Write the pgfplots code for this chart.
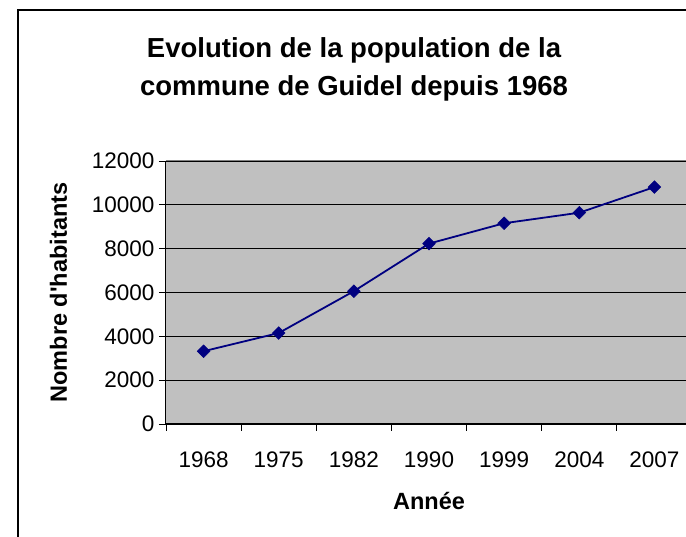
\documentclass[border=0pt]{standalone}
\usepackage{pgfplots}
\pgfplotsset{compat=1.18}
\usepackage{fontspec}
\setmainfont{Liberation Sans}
\definecolor{plotgray}{RGB}{192,192,192}
\definecolor{bordergray}{RGB}{128,128,128}
\definecolor{navyblue}{RGB}{0,0,128}
\begin{document}
\begin{tikzpicture}[x=1pt,y=1pt]
\begin{axis}[
  at={(166pt,113pt)}, anchor=south west,
  scale only axis, width=526pt, height=263pt,
  xmin=-0.5, xmax=6.5, ymin=0, ymax=12000,
  axis x line*=bottom, axis y line*=left,
  axis line style={black, line width=1pt, -},
  axis background/.style={fill=plotgray},
  xtick={0,...,6},
  xticklabels={1968,1975,1982,1990,1999,2004,2007},
  minor xtick={-0.5,0.5,...,6.5},
  ytick={0,2000,...,12000},
  scaled y ticks=false,
  /pgf/number format/1000 sep={},
  /pgf/number format/assume math mode=true,
  ymajorgrids, major grid style={black, line width=0.8pt},
  tick align=outside,
  major x tick style={draw=none},
  major tick length=7pt, minor tick length=7pt,
  tick style={black, line width=0.8pt},
  ticklabel style={font=\fontsize{22.5}{27}\selectfont},
  yticklabel style={xshift=-1pt},
  xticklabel style={yshift=-17pt},
  xlabel={Année},
  ylabel={Nombre d\textquotesingle habitants},
  label style={font=\bfseries\fontsize{23.5}{28}\selectfont},
  xlabel style={yshift=-18pt},
  ylabel style={yshift=18pt},
  clip=false,
]
\addplot[navyblue, line width=1.8pt, mark=square*, mark size=4.5pt, mark options={fill=navyblue, draw=navyblue, line width=0.5pt, rotate=45}]
  coordinates {(0,3320) (1,4150) (2,6060) (3,8230) (4,9160) (5,9640) (6,10810)};
\draw[bordergray, line width=1pt] (rel axis cs:0,1) -- (rel axis cs:1,1);
\end{axis}
\node[anchor=base, font=\bfseries\fontsize{27.5}{33}\selectfont] at (354,479) {Evolution de la population de la};
\node[anchor=base, font=\bfseries\fontsize{27.5}{33}\selectfont] at (354,441) {commune de Guidel depuis 1968};
\draw[black, line width=2pt] (18,527) rectangle (700,-20);
\pgfresetboundingbox
\path[use as bounding box] (0,0) rectangle (686,537);
\end{tikzpicture}
\end{document}
